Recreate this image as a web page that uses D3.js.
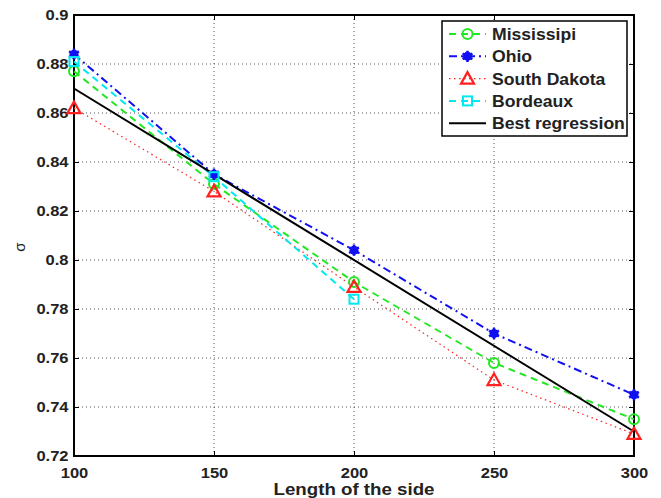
<!DOCTYPE html>
<html>
<head>
<meta charset="utf-8">
<style>
body { margin: 0; background: #fff; }
text { font-family: "Liberation Sans", Arial, sans-serif; }
</style>
</head>
<body>
<svg id="mysvg" width="661" height="498"></svg>
<script src="https://d3js.org/d3.v7.min.js"></script>
<script>

var sides = [100, 150, 200, 250, 300]
var mississipi = [0.877, 0.831, 0.791, 0.758, 0.735]
var ohio = [0.884, 0.835, 0.804, 0.770, 0.745]
var southDakota = [0.862, 0.828, 0.789, 0.751, 0.729]
var bordeaux = [0.881, 0.834, 0.784]
var regX = [100, 300]
var regY = [0.870, 0.730]
var xTicks = [100, 150, 200, 250, 300]
var yTicks = [0.72, 0.74, 0.76, 0.78, 0.8, 0.82, 0.84, 0.86, 0.88, 0.9]

var svg = d3.select("#mysvg")
var L = 74, R = 634, T = 15, B = 456

var x = d3.scaleLinear().domain([100, 300]).range([L, R])
var y = d3.scaleLinear().domain([0.72, 0.9]).range([B, T])

// grid
svg.append("g").selectAll("line").data(xTicks.slice(1, -1)).enter().append("line")
  .attr("x1", d => x(d)).attr("x2", d => x(d)).attr("y1", T).attr("y2", B)
  .attr("stroke", "#555").attr("stroke-width", 1).attr("stroke-dasharray", "1,3")
svg.append("g").selectAll("line").data(yTicks.slice(1, -1)).enter().append("line")
  .attr("y1", d => y(d)).attr("y2", d => y(d)).attr("x1", L).attr("x2", R)
  .attr("stroke", "#555").attr("stroke-width", 1).attr("stroke-dasharray", "1,3")

// axes (ticks inward, labels bold, slightly wide like the original)
var xAxis = d3.axisBottom(x).tickValues(xTicks).tickSize(-5).tickPadding(11).tickFormat(d3.format("d"))
var yAxis = d3.axisLeft(y).tickValues(yTicks).tickSize(-5).tickPadding(5).tickFormat(d => String(+d.toFixed(2)))
svg.append("g").attr("transform", "translate(0," + B + ")").call(xAxis)
svg.append("g").attr("transform", "translate(" + L + ",0)").call(yAxis)
svg.append("g").attr("transform", "translate(0," + T + ")")
  .call(d3.axisTop(x).tickValues(xTicks).tickSize(-5).tickFormat(""))
svg.append("g").attr("transform", "translate(" + R + ",0)")
  .call(d3.axisRight(y).tickValues(yTicks).tickSize(-5).tickFormat(""))
svg.selectAll(".domain").remove()
svg.selectAll(".tick line").attr("stroke", "#000").attr("stroke-width", 1)
svg.selectAll(".tick text").attr("font-size", 15).attr("font-weight", "bold")
  .attr("fill", "#222").attr("font-family", "Liberation Sans, Arial, sans-serif")
  .attr("transform", "scale(1.1,1)")

svg.append("rect").attr("x", L).attr("y", T).attr("width", R - L).attr("height", B - T)
  .attr("fill", "none").attr("stroke", "#000").attr("stroke-width", 2)

// series
var series = [
  {name: "Mississipi", vals: mississipi, color: "#22e822", dash: "7,5", w: 2, mark: "circle"},
  {name: "Ohio", vals: ohio, color: "#1010f0", dash: "8,4,2,4", w: 2, mark: "star"},
  {name: "South Dakota", vals: southDakota, color: "#ff2020", dash: "1.5,3.5", w: 1.2, mark: "tri"},
  {name: "Bordeaux", vals: bordeaux, color: "#00e8f0", dash: "7,5", w: 2, mark: "square"}
]

var line = d3.line().x(d => x(d[0])).y(d => y(d[1]))

function marker(g, type, color, cx, cy) {
  if (type == "circle") {
    g.append("circle").attr("cx", cx).attr("cy", cy).attr("r", 5)
      .attr("fill", "none").attr("stroke", color).attr("stroke-width", 2)
  } else if (type == "star") {
    g.append("circle").attr("cx", cx).attr("cy", cy).attr("r", 4.5).attr("fill", color)
    g.append("path").attr("d", d3.symbol().type(d3.symbolAsterisk).size(90)())
      .attr("transform", "translate(" + cx + "," + cy + ")")
      .attr("stroke", color).attr("stroke-width", 2.5)
  } else if (type == "tri") {
    g.append("path").attr("d", "M0,-6.5L6.5,5L-6.5,5Z")
      .attr("transform", "translate(" + cx + "," + cy + ")")
      .attr("fill", "none").attr("stroke", color).attr("stroke-width", 2.2)
  } else if (type == "square") {
    g.append("rect").attr("x", cx - 4.5).attr("y", cy - 4.5).attr("width", 9).attr("height", 9)
      .attr("fill", "none").attr("stroke", color).attr("stroke-width", 2)
  }
}

series.forEach(function(s) {
  var pts = s.vals.map((v, i) => [sides[i], v])
  svg.append("path").datum(pts).attr("d", line)
    .attr("fill", "none").attr("stroke", s.color).attr("stroke-width", s.w)
    .attr("stroke-dasharray", s.dash)
})

svg.append("path").datum(regX.map((v, i) => [v, regY[i]])).attr("d", line)
  .attr("fill", "none").attr("stroke", "#000").attr("stroke-width", 2)

series.forEach(function(s) {
  var g = svg.append("g")
  s.vals.forEach((v, i) => marker(g, s.mark, s.color, x(sides[i]), y(v)))
})

// legend
var lg = svg.append("g")
lg.append("rect").attr("x", 442).attr("y", 21).attr("width", 185).attr("height", 115)
  .attr("fill", "#fff").attr("stroke", "#000").attr("stroke-width", 1.5)
var items = series.concat([{name: "Best regression", color: "#000", dash: null, w: 2, mark: null}])
items.forEach(function(s, i) {
  var cy = 34 + i * 22.3
  lg.append("line").attr("x1", 449).attr("x2", 486).attr("y1", cy).attr("y2", cy)
    .attr("stroke", s.color).attr("stroke-width", s.w).attr("stroke-dasharray", s.dash)
  if (s.mark) marker(lg, s.mark, s.color, 467.5, cy)
  lg.append("text").attr("transform", "translate(492," + (cy + 6) + ") scale(1.1,1)").text(s.name)
    .attr("font-size", 16).attr("font-weight", "bold").attr("fill", "#222")
})

// labels
svg.append("text").attr("transform", "translate(" + x(200) + ",495) scale(1.1,1)").attr("text-anchor", "middle")
  .attr("font-size", 17).attr("font-weight", "bold").attr("fill", "#222").text("Length of the side")
svg.append("text").attr("transform", "translate(25,247) rotate(-90)").attr("text-anchor", "middle")
  .attr("font-size", 15).attr("fill", "#222").text("σ")

</script>
</body>
</html>
